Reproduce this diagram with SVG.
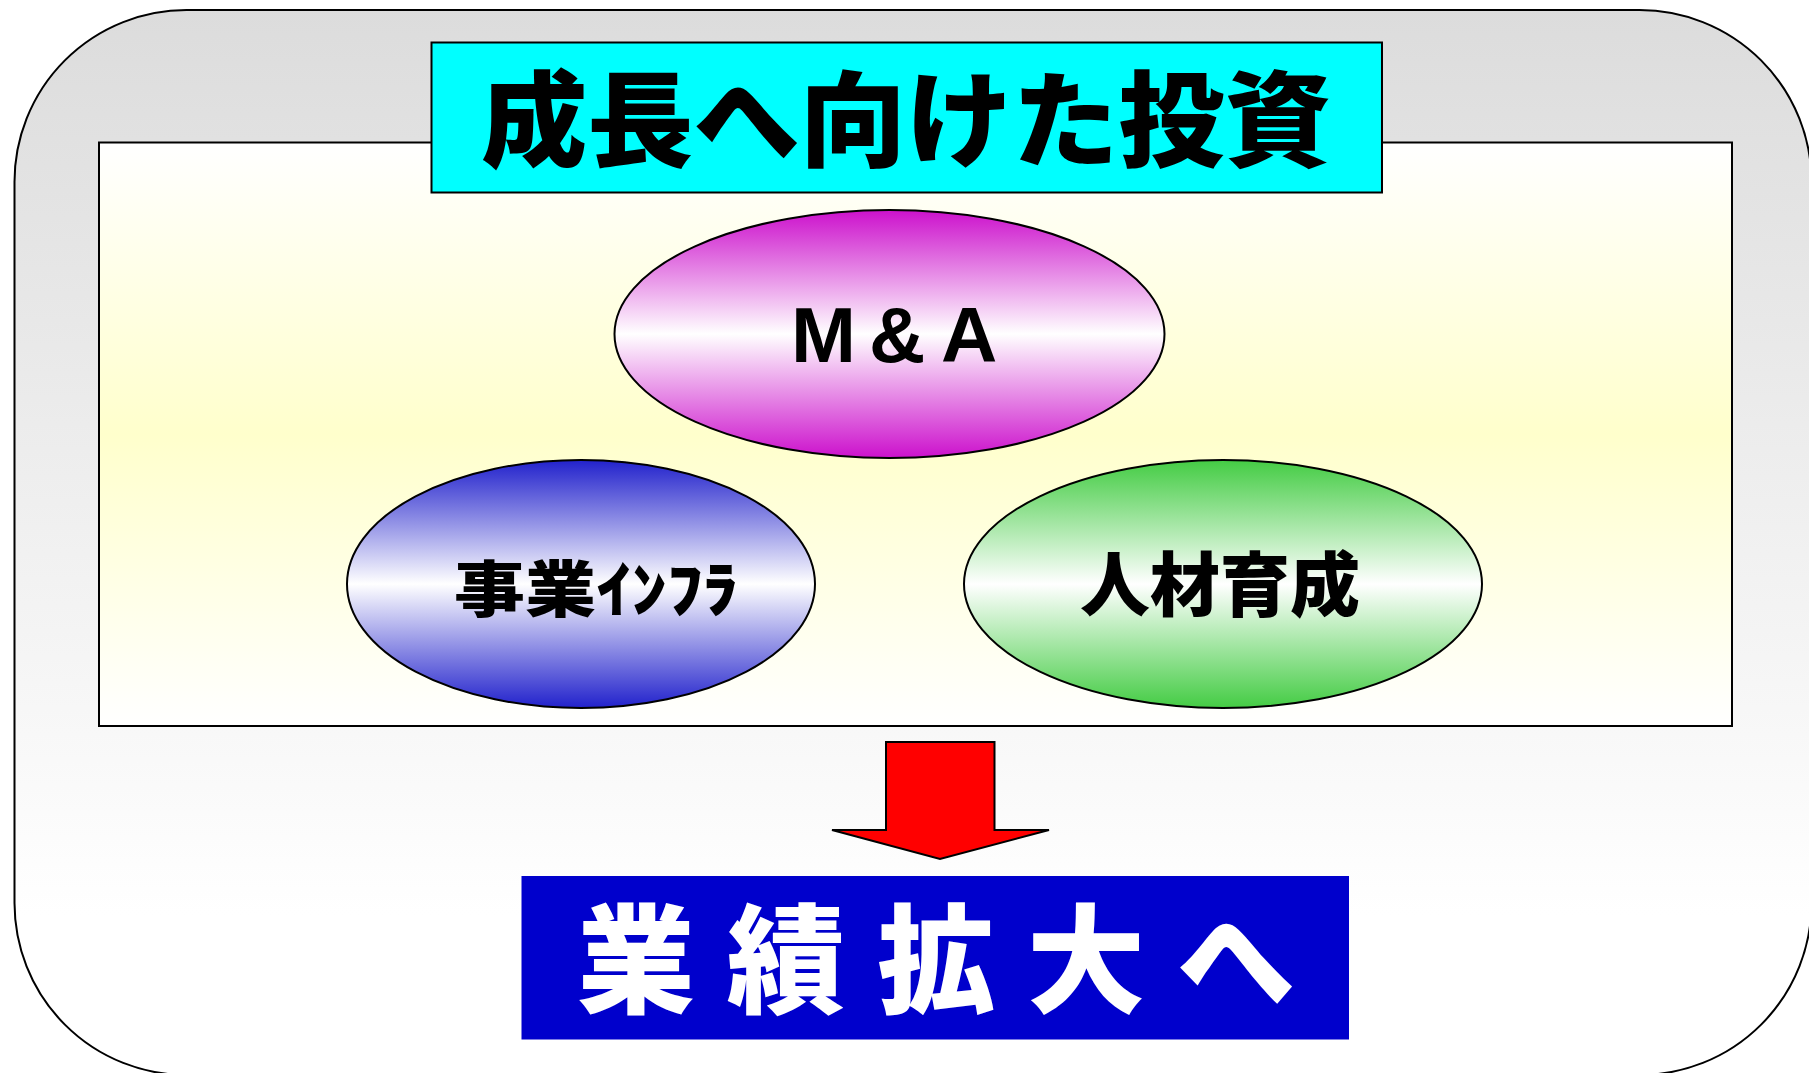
<svg xmlns="http://www.w3.org/2000/svg" width="1809" height="1073" viewBox="0 0 1809 1073">
<defs>
<linearGradient id="gOuter" x1="0" y1="0" x2="0" y2="1">
<stop offset="0" stop-color="#dcdcdc"/>
<stop offset="0.85" stop-color="#ffffff"/>
<stop offset="1" stop-color="#ffffff"/>
</linearGradient>
<linearGradient id="gInner" x1="0" y1="0" x2="0" y2="1">
<stop offset="0" stop-color="#ffffff"/>
<stop offset="0.5" stop-color="#ffffcc"/>
<stop offset="1" stop-color="#ffffff"/>
</linearGradient>
<linearGradient id="gMag" x1="0" y1="0" x2="0" y2="1">
<stop offset="0" stop-color="#cc11cc"/>
<stop offset="0.5" stop-color="#ffffff"/>
<stop offset="1" stop-color="#cc11cc"/>
</linearGradient>
<linearGradient id="gBlue" x1="0" y1="0" x2="0" y2="1">
<stop offset="0" stop-color="#2222cc"/>
<stop offset="0.5" stop-color="#ffffff"/>
<stop offset="1" stop-color="#2222cc"/>
</linearGradient>
<linearGradient id="gGreen" x1="0" y1="0" x2="0" y2="1">
<stop offset="0" stop-color="#44cc44"/>
<stop offset="0.5" stop-color="#ffffff"/>
<stop offset="1" stop-color="#44cc44"/>
</linearGradient>
</defs>
<style>
.ln{stroke:#000;stroke-width:2}
.jp{font-family:"Noto Sans CJK JP","Noto Sans CJK SC",sans-serif;font-weight:900}
.lat{font-family:"Liberation Sans",Arial,sans-serif;font-weight:bold}
</style>
<g id="background">
<rect x="14.5" y="10" width="1797" height="1065" rx="172" ry="172" fill="url(#gOuter)" class="ln" stroke-width="2.5"/>
<rect x="99" y="142.5" width="1633" height="583.5" fill="url(#gInner)" class="ln"/>
</g>
<g id="title">
<rect x="431.5" y="42.5" width="950.5" height="150" fill="#00ffff" class="ln"/>
<text class="jp" x="906" y="159" font-size="104" text-anchor="middle" textLength="850" lengthAdjust="spacingAndGlyphs">成長へ向けた投資</text>
</g>
<g id="node-ma">
<ellipse cx="889.5" cy="334" rx="275" ry="124" fill="url(#gMag)" class="ln"/>
<text class="lat" font-size="78" y="362"><tspan x="791">M</tspan><tspan x="869">&amp;</tspan><tspan x="941">A</tspan></text>
</g>
<g id="node-infra">
<ellipse cx="581" cy="584" rx="234" ry="124" fill="url(#gBlue)" class="ln"/>
<text class="jp" x="596" y="612" font-size="61" text-anchor="middle" textLength="284" lengthAdjust="spacingAndGlyphs">事業ｲﾝﾌﾗ</text>
</g>
<g id="node-hr">
<ellipse cx="1223" cy="584" rx="259" ry="124" fill="url(#gGreen)" class="ln"/>
<text class="jp" x="1220" y="611" font-size="70" text-anchor="middle">人材育成</text>
</g>
<g id="connectors">
<polygon points="886,742 994.5,742 994.5,830 1049,830 940,859 832,830 886,830" fill="#ff0000" class="ln" stroke-linejoin="miter"/>
</g>
<g id="node-result">
<rect x="521.5" y="876" width="827.5" height="163.5" fill="#0000cc"/>
<text class="jp" x="577" y="1004" font-size="118" fill="#ffffff" letter-spacing="32">業績拡大へ</text>
</g>
</svg>
